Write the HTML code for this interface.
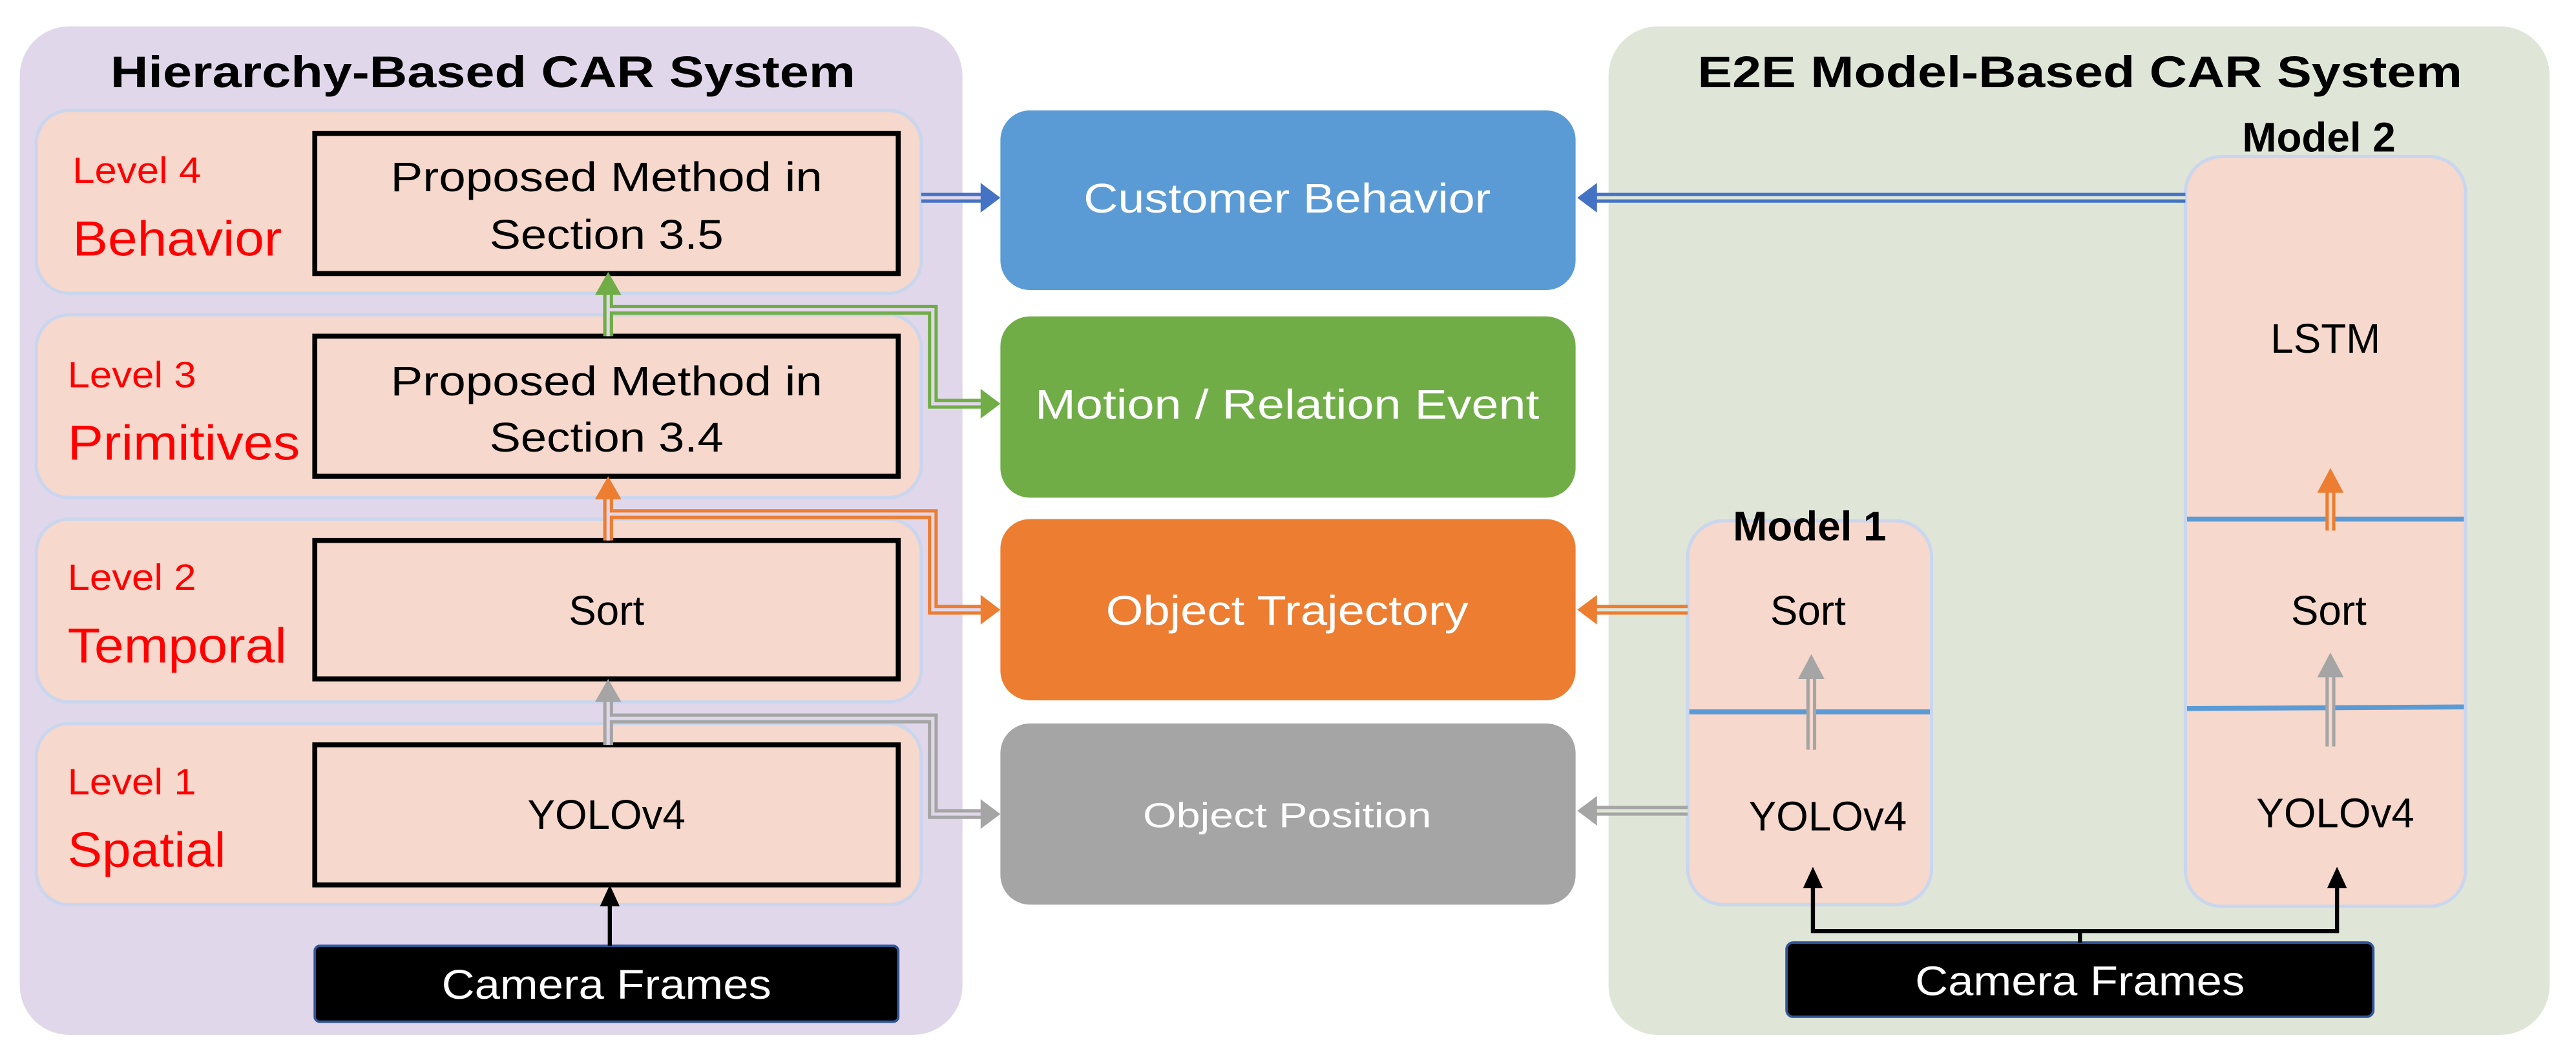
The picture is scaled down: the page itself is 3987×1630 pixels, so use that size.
<!DOCTYPE html>
<html><head><meta charset="utf-8"><style>
html,body{margin:0;padding:0;background:#fff;}
svg{display:block;}
text{font-family:"Liberation Sans",sans-serif;}
</style></head><body>
<svg width="3987" height="1630" viewBox="0 0 1563 639" preserveAspectRatio="none" xmlns="http://www.w3.org/2000/svg">
<rect width="1563" height="639" fill="#fff"/>
<rect x="12" y="16" width="572" height="612" rx="30" fill="#e1d7ea"/>
<rect x="976" y="16" width="571" height="612" rx="30" fill="#dfe6d8"/>
<text x="293" y="53" font-size="27" font-weight="bold" text-anchor="middle" textLength="452" lengthAdjust="spacingAndGlyphs">Hierarchy-Based CAR System</text>
<text x="1262" y="53" font-size="27" font-weight="bold" text-anchor="middle" textLength="464" lengthAdjust="spacingAndGlyphs">E2E Model-Based CAR System</text>

<g fill="#f6d8cc" stroke="#c9d6ee" stroke-width="2">
<rect x="22" y="67" width="537" height="111" rx="20"/>
<rect x="22" y="191" width="537" height="111" rx="20"/>
<rect x="22" y="315" width="537" height="111" rx="20"/>
<rect x="22" y="439" width="537" height="110" rx="20"/>
</g>
<g fill="none" stroke="#000" stroke-width="3">
<rect x="191" y="81" width="354" height="85"/>
<rect x="191" y="204" width="354" height="85"/>
<rect x="191" y="328" width="354" height="84"/>
<rect x="191" y="452" width="354" height="85"/>
</g>
<g fill="#ff0000">
<text x="44" y="111" font-size="22" textLength="78" lengthAdjust="spacingAndGlyphs">Level 4</text>
<text x="44" y="155" font-size="30" textLength="127" lengthAdjust="spacingAndGlyphs">Behavior</text>
<text x="41" y="235" font-size="22" textLength="78" lengthAdjust="spacingAndGlyphs">Level 3</text>
<text x="41" y="279" font-size="30" textLength="141" lengthAdjust="spacingAndGlyphs">Primitives</text>
<text x="41" y="358" font-size="22" textLength="78" lengthAdjust="spacingAndGlyphs">Level 2</text>
<text x="41" y="402" font-size="30" textLength="133" lengthAdjust="spacingAndGlyphs">Temporal</text>
<text x="41" y="482" font-size="22" textLength="78" lengthAdjust="spacingAndGlyphs">Level 1</text>
<text x="41" y="526" font-size="30" textLength="96" lengthAdjust="spacingAndGlyphs">Spatial</text>
</g>
<g font-size="25" text-anchor="middle" fill="#000">
<text x="368" y="116" textLength="262" lengthAdjust="spacingAndGlyphs">Proposed Method in</text>
<text x="368" y="151" textLength="142" lengthAdjust="spacingAndGlyphs">Section 3.5</text>
<text x="368" y="240" textLength="262" lengthAdjust="spacingAndGlyphs">Proposed Method in</text>
<text x="368" y="274" textLength="142" lengthAdjust="spacingAndGlyphs">Section 3.4</text>
<text x="368" y="379">Sort</text>
<text x="368" y="503">YOLOv4</text>
</g>

<rect x="607" y="67" width="349" height="109" rx="18" fill="#5b9bd5"/>
<rect x="607" y="192" width="349" height="110" rx="18" fill="#70ad47"/>
<rect x="607" y="315" width="349" height="110" rx="18" fill="#ed7d31"/>
<rect x="607" y="439" width="349" height="110" rx="18" fill="#a5a5a5"/>
<g fill="#fff" text-anchor="middle" font-size="25">
<text x="781" y="129" textLength="247" lengthAdjust="spacingAndGlyphs">Customer Behavior</text>
<text x="781" y="254" textLength="306" lengthAdjust="spacingAndGlyphs">Motion / Relation Event</text>
<text x="781" y="379" textLength="220" lengthAdjust="spacingAndGlyphs">Object Trajectory</text>
<text x="781" y="502" font-size="21" textLength="175" lengthAdjust="spacingAndGlyphs">Object Position</text>
</g>

<rect x="1326" y="95" width="170" height="455" rx="22" fill="#f6d8cc" stroke="#c9d6ee" stroke-width="2"/>
<rect x="1024" y="316" width="148" height="233" rx="22" fill="#f6d8cc" stroke="#c9d6ee" stroke-width="2"/>
<g stroke="#5b9bd5" stroke-width="3">
<line x1="1327" y1="315" x2="1495" y2="315"/>
<line x1="1327" y1="430" x2="1495" y2="429"/>
<line x1="1025" y1="432" x2="1171" y2="432"/>
</g>
<g font-size="25" text-anchor="middle" fill="#000">
<text x="1411" y="214">LSTM</text>
<text x="1413" y="379">Sort</text>
<text x="1417" y="502">YOLOv4</text>
<text x="1097" y="379">Sort</text>
<text x="1109" y="504">YOLOv4</text>
</g>
<g font-size="25" font-weight="bold" text-anchor="middle" fill="#000">
<text x="1407" y="92">Model 2</text>
<text x="1098" y="328">Model 1</text>
</g>

<rect x="191" y="574" width="354" height="46" rx="3" fill="#000" stroke="#2f5597" stroke-width="1.5"/>
<rect x="1084" y="572" width="356" height="45" rx="4" fill="#000" stroke="#2f5597" stroke-width="1.5"/>
<g fill="#fff" font-size="25" text-anchor="middle">
<text x="368" y="606" textLength="200" lengthAdjust="spacingAndGlyphs">Camera Frames</text>
<text x="1262" y="604" textLength="200" lengthAdjust="spacingAndGlyphs">Camera Frames</text>
</g>

<g stroke="#000" stroke-width="2.5" fill="none">
<line x1="370" y1="574" x2="370" y2="548"/>
<polyline points="1262,572 1262,565 1100,565 1100,536"/>
<polyline points="1262,565 1418,565 1418,536"/>
</g>
<g fill="#000">
<polygon points="370,537 364,550 376,550"/>
<polygon points="1100,526 1094,539 1106,539"/>
<polygon points="1418,526 1412,539 1424,539"/>
</g>

<g fill="none" stroke-linejoin="miter">
<path d="M559,120 H597" stroke="#4472c4" stroke-width="6"/>
<path d="M559,120 H597" stroke="#e1d7ea" stroke-width="2"/>
<path d="M1326,120 H967" stroke="#4472c4" stroke-width="6"/>
<path d="M1326,120 H967" stroke="#dfe6d8" stroke-width="2"/>
<path d="M369,204 V176 M369,188 H566 V245 H597" stroke="#70ad47" stroke-width="6"/>
<path d="M369,204 V176 M369,188 H566 V245 H597" stroke="#e1d7ea" stroke-width="2"/>
<path d="M369,328 V300 M369,312 H566 V370 H597" stroke="#ed7d31" stroke-width="6"/>
<path d="M369,328 V300 M369,312 H566 V370 H597" stroke="#e1d7ea" stroke-width="2"/>
<path d="M1024,370 H967" stroke="#ed7d31" stroke-width="6"/>
<path d="M1024,370 H967" stroke="#dfe6d8" stroke-width="2"/>
<path d="M369,452 V424 M369,436 H566 V494 H597" stroke="#a5a5a5" stroke-width="6"/>
<path d="M369,452 V424 M369,436 H566 V494 H597" stroke="#e1d7ea" stroke-width="2"/>
<path d="M1024,492 H967" stroke="#a5a5a5" stroke-width="6"/>
<path d="M1024,492 H967" stroke="#dfe6d8" stroke-width="2"/>
<path d="M1099,455 V410" stroke="#a5a5a5" stroke-width="6"/>
<path d="M1099,455 V410" stroke="#f6d8cc" stroke-width="2"/>
<path d="M1414,453 V409" stroke="#a5a5a5" stroke-width="6"/>
<path d="M1414,453 V409" stroke="#f6d8cc" stroke-width="2"/>
<path d="M1414,322 V297" stroke="#ed7d31" stroke-width="6"/>
<path d="M1414,322 V297" stroke="#f6d8cc" stroke-width="2"/>
</g>
<polygon points="607,120 595,111 595,129" fill="#4472c4"/>
<polygon points="957,120 969,111 969,129" fill="#4472c4"/>
<polygon points="369,165 361,179 377,179" fill="#70ad47"/>
<polygon points="607,245 595,236 595,254" fill="#70ad47"/>
<polygon points="369,289 361,303 377,303" fill="#ed7d31"/>
<polygon points="607,370 595,361 595,379" fill="#ed7d31"/>
<polygon points="957,370 969,361 969,379" fill="#ed7d31"/>
<polygon points="369,412 361,426 377,426" fill="#a5a5a5"/>
<polygon points="607,494 595,485 595,503" fill="#a5a5a5"/>
<polygon points="957,492 969,483 969,501" fill="#a5a5a5"/>
<polygon points="1099,397 1091,412 1107,412" fill="#a5a5a5"/>
<polygon points="1414,396 1406,411 1422,411" fill="#a5a5a5"/>
<polygon points="1414,284 1406,299 1422,299" fill="#ed7d31"/>
</svg>
</body></html>
